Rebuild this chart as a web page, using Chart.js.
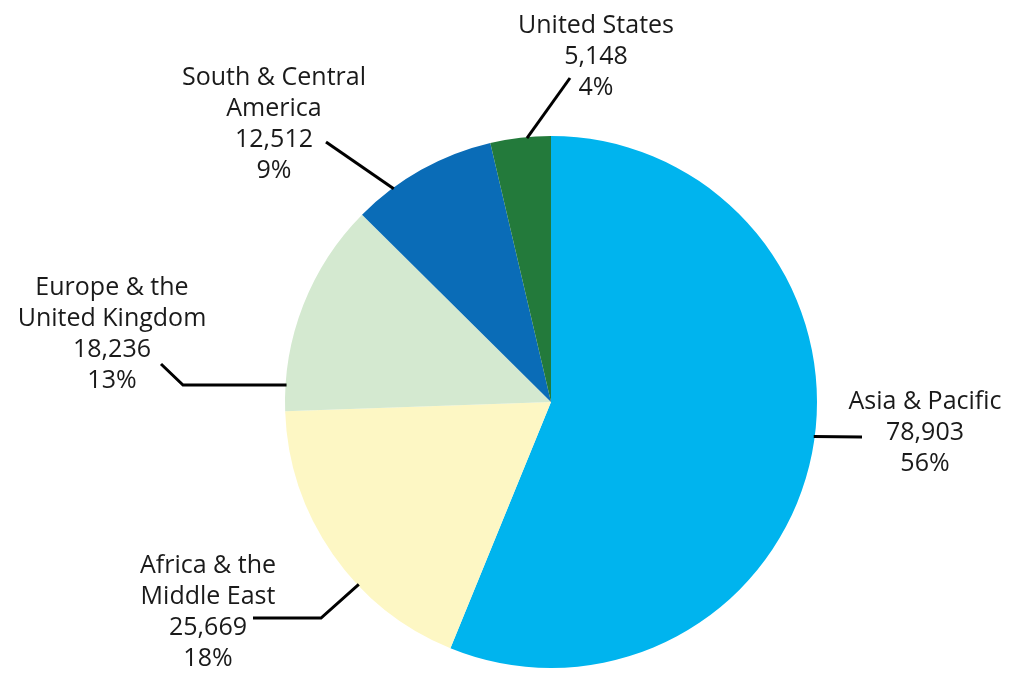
<!DOCTYPE html>
<html>
<head>
<meta charset="utf-8">
<script src="https://cdn.jsdelivr.net/npm/chart.js@4.4.1/dist/chart.umd.min.js"></script>
<style>
  html, body { margin: 0; padding: 0; background: #ffffff; }
  #wrap { width: 1016px; height: 673px; position: relative; }
</style>
</head>
<body>
<div id="wrap"><canvas id="c" width="1016" height="673"></canvas></div>
<script>
// ---- data ----
const categories = ["Asia & Pacific", "Africa & the Middle East", "Europe & the United Kingdom", "South & Central America", "United States"];
const labelLines = [["Asia & Pacific"], ["Africa & the", "Middle East"], ["Europe & the", "United Kingdom"], ["South & Central", "America"], ["United States"]];
const values = [78903, 25669, 18236, 12512, 5148];
const colors = ["#00b4ee", "#fdf7c4", "#d4e9d0", "#0a6cb7", "#237a3b"];

// ---- label / leader layout (annotation positions, not data) ----
const leaderLayout = [
  { angle: 97.5,  path: [[862, 437]],             tx: 925, ty: 409 },
  { angle: 226.5, path: [[321, 618], [253, 618]], tx: 208, ty: 573 },
  { angle: 273.7, path: [[183, 385], [161, 364]], tx: 112, ty: 295 },
  { angle: 323.6, path: [[326, 142]],             tx: 274, ty: 85 },
  { angle: 354.8, path: [[570, 78]],              tx: 596, ty: 33 }
];

const total = values.reduce((a, b) => a + b, 0);
const fmt = v => v.toLocaleString("en-US");

const labelPlugin = {
  id: "leaderLabels",
  afterDraw(chart) {
    const ctx = chart.ctx;
    const meta = chart.getDatasetMeta(0);
    const arc0 = meta.data[0];
    const cx = arc0.x, cy = arc0.y, r = arc0.outerRadius;
    ctx.save();
    ctx.strokeStyle = "#000000";
    ctx.lineWidth = 3;
    ctx.lineJoin = "miter";
    ctx.fillStyle = "#1a1a1a";
    ctx.font = "25px 'Open Sans'";
    ctx.textAlign = "center";
    ctx.textBaseline = "alphabetic";
    const lh = 31;
    values.forEach((v, i) => {
      const L = leaderLayout[i];
      const a = (L.angle - 90) * Math.PI / 180;
      const sx = cx + Math.cos(a) * (r - 1);
      const sy = cy + Math.sin(a) * (r - 1);
      ctx.beginPath();
      ctx.moveTo(sx, sy);
      L.path.forEach(p => ctx.lineTo(p[0], p[1]));
      ctx.stroke();
      const lines = labelLines[i].concat([fmt(v), Math.round(v / total * 100) + "%"]);
      lines.forEach((t, k) => ctx.fillText(t, L.tx, L.ty + k * lh));
    });
    ctx.restore();
  }
};

new Chart(document.getElementById("c"), {
  type: "pie",
  data: {
    labels: categories,
    datasets: [{
      data: values,
      backgroundColor: colors,
      borderWidth: 0
    }]
  },
  options: {
    responsive: false,
    animation: false,
    rotation: 0,
    layout: { padding: { top: 136, bottom: 5, left: 285, right: 199 } },
    plugins: {
      legend: { display: false },
      tooltip: { enabled: false }
    }
  },
  plugins: [labelPlugin]
});
</script>
</body>
</html>
